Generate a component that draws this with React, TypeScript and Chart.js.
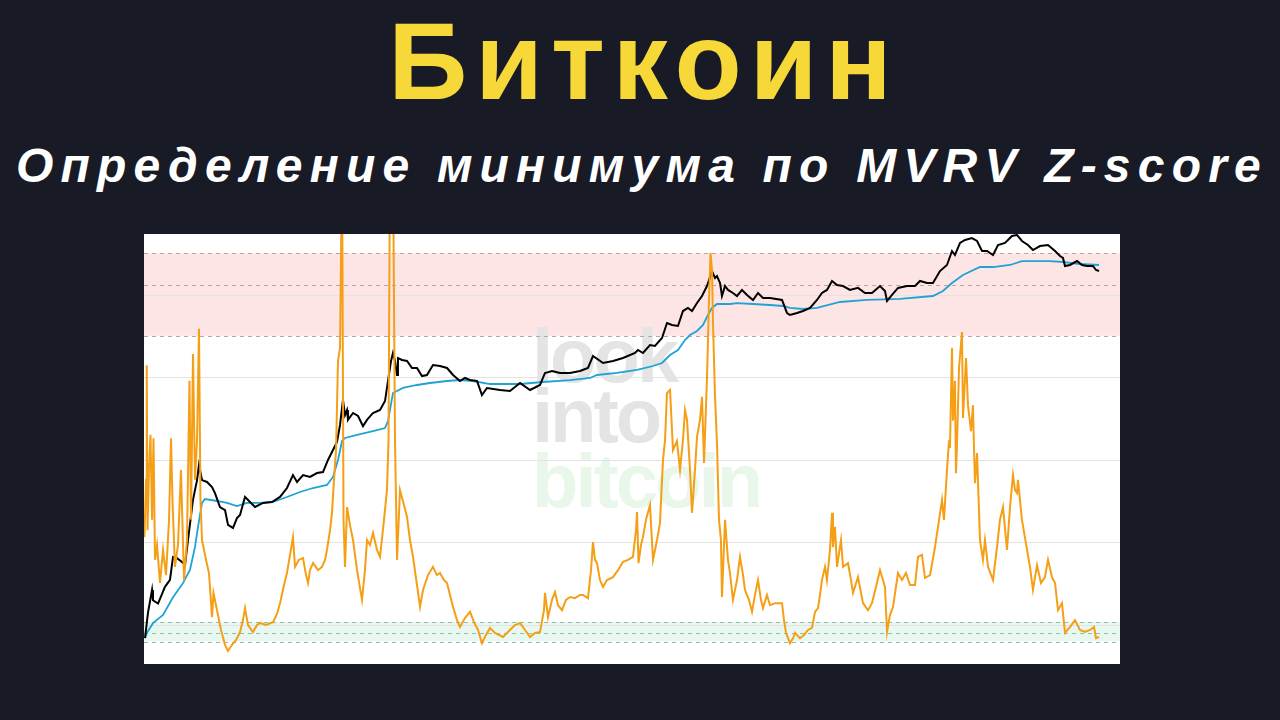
import React, { useEffect, useRef } from "react";
import { Chart, registerables } from "chart.js";
Chart.register(...registerables);

// MVRV Z-score: [year, z]
const zScoreSeries: [number, number][] = [
  [2010.766,2.13],[2010.786,3.52],[2010.795,6.30],[2010.805,2.30],[2010.824,3.76],[2010.843,4.61],[2010.863,2.55],[2010.882,4.53],[2010.901,1.58],[2010.927,1.94],
  [2010.965,1.02],[2011.004,1.82],[2011.042,1.21],[2011.081,2.55],[2011.106,4.53],[2011.125,3.03],[2011.157,1.41],[2011.196,1.94],[2011.234,3.76],[2011.273,1.09],
  [2011.311,2.06],[2011.343,5.92],[2011.363,2.55],[2011.388,6.57],[2011.414,3.52],[2011.44,4.48],[2011.465,7.18],[2011.484,3.03],[2011.504,2.06],[2011.555,1.58],
  [2011.593,1.26],[2011.632,0.19],[2011.651,0.78],[2011.696,0.36],[2011.747,-0.12],[2011.799,-0.48],[2011.837,-0.63],[2011.888,-0.48],[2011.94,-0.36],[2011.991,-0.17],
  [2012.029,0.12],[2012.055,0.41],[2012.093,0],[2012.157,-0.17],[2012.209,0],[2012.247,0.05],[2012.324,0],[2012.414,0.07],[2012.465,0.27],[2012.504,0.53],
  [2012.555,0.97],[2012.593,1.26],[2012.632,1.70],[2012.67,2.13],[2012.696,1.41],[2012.747,1.58],[2012.799,1.62],[2012.837,1.21],[2012.863,1.02],[2012.888,1.33],
  [2012.927,1.50],[2012.991,1.33],[2013.042,1.41],[2013.081,1.58],[2013.106,1.82],[2013.145,2.30],[2013.17,2.72],[2013.196,3.52],[2013.222,4.24],[2013.247,6.40],
  [2013.273,6.72],[2013.299,11.2],[2013.318,2.55],[2013.337,1.41],[2013.363,2.86],[2013.401,2.42],[2013.44,2.06],[2013.491,1.33],[2013.555,0.61],[2013.593,1.33],
  [2013.619,2.06],[2013.657,1.94],[2013.696,2.23],[2013.747,1.82],[2013.786,1.65],[2013.837,2.55],[2013.875,3.27],[2013.895,4.46],[2013.914,11.5],[2013.933,9.7],
  [2013.952,11.3],[2013.978,4.48],[2014.004,1.58],[2014.042,3.27],[2014.093,2.91],[2014.132,2.62],[2014.17,2.06],[2014.209,1.65],[2014.26,0.97],[2014.299,0.44],
  [2014.337,0.85],[2014.401,1.21],[2014.465,1.41],[2014.516,1.21],[2014.555,1.26],[2014.606,1.09],[2014.645,1.02],[2014.683,0.73],[2014.722,0.44],[2014.773,0.12],
  [2014.811,-0.05],[2014.875,0.17],[2014.94,0.32],[2014.991,0.07],[2015.042,-0.12],[2015.093,-0.44],[2015.145,-0.24],[2015.196,-0.07],[2015.26,-0.19],[2015.363,-0.29],
  [2015.452,-0.12],[2015.516,0],[2015.581,0.05],[2015.645,-0.12],[2015.709,-0.29],[2015.773,-0.19],[2015.837,-0.17],[2015.888,0.36],[2015.901,0.78],[2015.94,0.19],
  [2015.991,0.61],[2016.029,0.80],[2016.068,0.48],[2016.119,0.36],[2016.17,0.61],[2016.222,0.68],[2016.286,0.65],[2016.35,0.73],[2016.388,0.73],[2016.452,0.65],
  [2016.491,1.33],[2016.516,2.01],[2016.542,1.58],[2016.568,1.50],[2016.606,1.09],[2016.645,0.92],[2016.696,1.09],[2016.773,1.16],[2016.837,1.33],[2016.901,1.53],
  [2016.965,1.58],[2017.029,1.65],[2017.068,2.30],[2017.081,2.74],[2017.1,1.50],[2017.132,1.94],[2017.157,2.13],[2017.196,2.55],[2017.247,2.91],[2017.286,1.58],
  [2017.337,2.06],[2017.375,2.47],[2017.414,4.00],[2017.44,4.48],[2017.465,5.62],[2017.504,5.70],[2017.542,4.24],[2017.593,4.46],[2017.632,3.76],[2017.67,4.48],
  [2017.696,5.21],[2017.722,4.97],[2017.76,3.76],[2017.786,2.72],[2017.824,3.76],[2017.85,4.56],[2017.888,4.97],[2017.914,5.53],[2017.94,3.93],[2017.978,6.01],
  [2018.004,7.88],[2018.023,9.02],[2018.042,8.61],[2018.055,7.32],[2018.081,5.53],[2018.106,4.41],[2018.132,2.55],[2018.157,2.06],[2018.17,0.68],[2018.209,2.55],
  [2018.247,1.58],[2018.273,1.26],[2018.311,0.61],[2018.363,1.09],[2018.401,1.65],[2018.44,1.21],[2018.465,0.85],[2018.516,0.61],[2018.555,0.32],[2018.593,0.73],
  [2018.632,1.09],[2018.67,0.61],[2018.696,0.41],[2018.747,0.73],[2018.786,0.48],[2018.85,0.53],[2018.94,0.53],[2018.965,0.12],[2018.991,-0.19],[2019.042,-0.44],
  [2019.081,-0.32],[2019.106,-0.19],[2019.17,-0.32],[2019.222,-0.24],[2019.273,-0.12],[2019.324,-0.07],[2019.363,0.32],[2019.401,0.41],[2019.427,0.73],[2019.452,1.09],
  [2019.491,1.41],[2019.516,1.09],[2019.555,1.82],[2019.581,2.72],[2019.593,1.89],[2019.619,2.38],[2019.645,1.41],[2019.696,2.06],[2019.722,1.41],[2019.786,1.50],
  [2019.824,1.09],[2019.85,0.78],[2019.914,1.16],[2019.978,0.53],[2020.042,0.36],[2020.093,0.53],[2020.157,1.02],[2020.196,1.33],[2020.234,1.09],[2020.26,0.92],
  [2020.286,-0.17],[2020.324,0.24],[2020.363,0.44],[2020.427,1.26],[2020.478,1.09],[2020.529,1.26],[2020.581,0.97],[2020.645,0.97],[2020.683,1.65],[2020.734,1.70],
  [2020.773,1.14],[2020.837,1.21],[2020.901,1.89],[2020.94,2.38],[2020.991,3.03],[2021.016,2.55],[2021.055,3.76],[2021.081,4.48],[2021.093,4.29],[2021.119,6.72],
  [2021.132,4.95],[2021.157,5.92],[2021.17,3.68],[2021.183,4.36],[2021.209,6.23],[2021.247,7.10],[2021.26,5.02],[2021.299,6.47],[2021.324,5.33],[2021.363,4.70],
  [2021.388,5.33],[2021.401,4.29],[2021.414,3.44],[2021.44,4.17],[2021.478,2.06],[2021.516,1.58],[2021.542,2.06],[2021.581,1.41],[2021.645,1.09],[2021.696,1.89],
  [2021.734,2.55],[2021.773,2.86],[2021.824,1.82],[2021.863,2.86],[2021.901,3.64],[2021.927,3.27],[2021.952,3.20],[2021.965,3.52],[2022.016,2.55],[2022.081,1.82],
  [2022.119,1.41],[2022.157,0.85],[2022.209,1.45],[2022.26,1.02],[2022.311,1.16],[2022.35,1.58],[2022.401,1.16],[2022.44,1.02],[2022.478,0.36],[2022.529,0.53],
  [2022.568,-0.19],[2022.632,-0.05],[2022.696,0.12],[2022.76,-0.12],[2022.824,-0.17],[2022.888,-0.12],[2022.94,-0.05],[2022.965,-0.32],[2023.004,-0.29],
];

// BTC price (USD, log scale): [year, price]
const priceSeries: [number, number][] = [
  [2010.773,0.047],[2010.811,0.115],[2010.863,0.26],[2010.875,0.18],[2010.94,0.16],[2011.029,0.29],[2011.093,0.37],[2011.132,0.83],[2011.183,0.80],[2011.247,0.70],
  [2011.286,0.63],[2011.324,1.52],[2011.388,6.3],[2011.44,12.7],[2011.465,21.7],[2011.504,12.7],[2011.568,11.9],[2011.632,9.95],[2011.67,8.0],[2011.734,4.9],
  [2011.799,4.4],[2011.837,2.6],[2011.901,2.33],[2011.952,3.3],[2011.991,3.7],[2012.055,7.0],[2012.119,5.85],[2012.183,4.9],[2012.286,5.65],[2012.401,5.85],
  [2012.504,7.0],[2012.593,9.6],[2012.67,15.2],[2012.722,11.9],[2012.799,15.2],[2012.888,14.2],[2012.978,16.3],[2013.055,16.9],[2013.119,25.9],[2013.183,36.9],
  [2013.234,49],[2013.273,89.5],[2013.311,217],[2013.337,127],[2013.363,152],[2013.375,107],[2013.44,137],[2013.504,123],[2013.568,86],[2013.619,107],
  [2013.696,137],[2013.786,152],[2013.85,209],[2013.888,425],[2013.927,863],[2013.952,1146],[2013.978,863],[2014.004,526],[2014.016,960],[2014.068,895],
  [2014.132,863],[2014.196,674],[2014.26,674],[2014.324,507],[2014.388,526],[2014.465,750],[2014.555,723],[2014.645,674],[2014.722,526],[2014.811,425],
  [2014.875,473],[2014.94,440],[2015.029,425],[2015.093,259],[2015.157,332],[2015.324,309],[2015.452,298],[2015.581,396],[2015.709,309],[2015.837,369],
  [2015.901,565],[2015.991,605],[2016.093,565],[2016.222,565],[2016.35,605],[2016.452,674],[2016.516,1030],[2016.645,804],[2016.773,863],[2016.901,960],
  [2017.055,1146],[2017.093,1274],[2017.157,1146],[2017.247,1521],[2017.311,1469],[2017.401,1950],[2017.465,3319],[2017.529,3090],[2017.606,2985],[2017.67,5070],
  [2017.734,5650],[2017.786,5070],[2017.85,6730],[2017.914,8630],[2017.978,12300],[2018.004,15200],[2018.042,20900],[2018.081,16300],[2018.106,17500],[2018.145,13700],
  [2018.17,8630],[2018.209,12300],[2018.247,10700],[2018.311,9600],[2018.363,8630],[2018.427,10700],[2018.491,8950],[2018.568,7500],[2018.632,9600],[2018.696,8040],
  [2018.786,8040],[2018.94,7500],[2019.004,4730],[2019.042,4400],[2019.132,4730],[2019.209,5070],[2019.299,5650],[2019.388,7500],[2019.452,9600],[2019.516,10700],
  [2019.581,14700],[2019.645,12700],[2019.722,12300],[2019.811,10700],[2019.914,11500],[2020.004,9600],[2020.093,9600],[2020.196,12300],[2020.26,10300],[2020.286,7230],
  [2020.35,8950],[2020.427,11500],[2020.542,12300],[2020.645,12300],[2020.709,14700],[2020.799,13700],[2020.875,13700],[2020.965,20900],[2021.055,25900],[2021.119,42500],
  [2021.157,36900],[2021.222,56500],[2021.286,62800],[2021.375,67300],[2021.44,60600],[2021.504,42500],[2021.568,42500],[2021.645,36900],[2021.709,52600],[2021.799,56500],
  [2021.888,72300],[2021.952,75000],[2022.016,60600],[2022.093,52600],[2022.157,44000],[2022.247,50700],[2022.35,52600],[2022.44,42500],[2022.504,35600],[2022.542,33200],
  [2022.568,25000],[2022.632,25900],[2022.722,29800],[2022.786,25900],[2022.85,25000],[2022.927,25000],[2022.965,21700],[2023.004,20900],
];

// Realized price (USD): [year, price]
const realizedSeries: [number, number][] = [
  [2010.773,0.047],[2010.798,0.057],[2010.875,0.080],[2011.004,0.107],[2011.132,0.20],[2011.26,0.33],[2011.35,0.53],[2011.414,1.19],[2011.452,2.41],[2011.504,5.65],
  [2011.542,6.5],[2011.696,6.06],[2011.824,5.65],[2011.952,5.07],[2012.081,5.65],[2012.247,5.65],[2012.414,5.85],[2012.593,6.98],[2012.76,8.33],[2012.927,9.6],
  [2013.106,10.7],[2013.183,14.2],[2013.247,25.9],[2013.299,50.7],[2013.337,56.5],[2013.491,62.8],[2013.696,72.3],[2013.85,80.4],[2013.888,103],[2013.952,278],
  [2014.081,332],[2014.26,369],[2014.427,396],[2014.645,425],[2014.811,440],[2014.978,425],[2015.196,382],[2015.581,382],[2015.875,410],[2016.222,440],
  [2016.478,473],[2016.568,526],[2016.824,565],[2017.081,628],[2017.286,723],[2017.401,804],[2017.504,1067],[2017.606,1274],[2017.696,1816],[2017.76,2168],
  [2017.85,2500],[2017.927,3090],[2017.991,4400],[2018.042,5650],[2018.106,6500],[2018.273,6500],[2018.363,6730],[2018.568,6500],[2018.786,6280],[2018.952,6060],
  [2019.042,5650],[2019.209,5450],[2019.388,5650],[2019.683,6980],[2020.029,7500],[2020.452,7770],[2020.875,8630],[2021.003,10300],[2021.119,13700],[2021.26,18200],
  [2021.478,24100],[2021.645,24100],[2021.863,25900],[2022.016,29800],[2022.157,29800],[2022.375,29800],[2022.542,28800],[2022.76,26800],[2023.004,25900],
];

const xRange = [2010.76, 2023.273];
const zRange = [-0.945, 9.479];
const priceRange = [0.01882, 77625];
const zGridValues = [0, 2, 4, 6, 8];
const redBand = [7.01, 9.02];
const redMid = 8.25;
const greenBand = [-0.4, 0.08];
const greenMid = -0.2;

const backdrop = {
  id: "backdrop",
  beforeDraw(chart: any) {
    const { ctx, chartArea: a, scales } = chart;
    const z = scales.z;
    ctx.save();
    ctx.fillStyle = "#ffffff";
    ctx.fillRect(0, 0, chart.width, chart.height);
    const r1 = z.getPixelForValue(redBand[1]);
    const r0 = z.getPixelForValue(redBand[0]);
    ctx.fillStyle = "#fde5e5";
    ctx.fillRect(a.left, r1, a.right - a.left, r0 - r1);
    const g1 = z.getPixelForValue(greenBand[1]);
    const g0 = z.getPixelForValue(greenBand[0]);
    ctx.fillStyle = "#e8f7ef";
    ctx.fillRect(a.left, g1, a.right - a.left, g0 - g1);
    // watermark
    ctx.font = 'bold 76px "Liberation Sans", Arial, sans-serif';
    try { (ctx as any).letterSpacing = "-3px"; } catch (e) {}
    ctx.textBaseline = "alphabetic";
    ctx.fillStyle = "#e4e4e4";
    ctx.fillText("look", a.left + 388, a.top + 148);
    ctx.fillText("into", a.left + 388, a.top + 208);
    ctx.fillStyle = "#e8f7ea";
    ctx.fillText("bitcoin", a.left + 388, a.top + 273);
    ctx.restore();
  },
  beforeDatasetsDraw(chart: any) {
    const { ctx, chartArea: a, scales } = chart;
    const z = scales.z;
    ctx.save();
    ctx.lineWidth = 1;
    ctx.setLineDash([4, 4]);
    const dash = (v: number, c: string) => {
      const y = Math.round(z.getPixelForValue(v)) + 0.5;
      ctx.strokeStyle = c;
      ctx.beginPath();
      ctx.moveTo(a.left, y);
      ctx.lineTo(a.right, y);
      ctx.stroke();
    };
    dash(redBand[1], "#bfa2a2");
    dash(redMid, "#bfa2a2");
    dash(redBand[0], "#bfa2a2");
    dash(greenBand[1], "#92bea4");
    dash(greenMid, "#92bea4");
    dash(greenBand[0], "#92bea4");
    ctx.restore();
  },
};

export default function App() {
  const ref = useRef<HTMLCanvasElement>(null);
  useEffect(() => {
    document.body.style.margin = "0";
    const chart = new Chart(ref.current as HTMLCanvasElement, {
      type: "line",
      data: {
        datasets: [
          {
            label: "MVRV Z-Score",
            data: zScoreSeries.map(([x, y]) => ({ x, y })),
            yAxisID: "z",
            borderColor: "#f59f16",
            borderWidth: 2,
            pointRadius: 0,
            tension: 0,
          },
          {
            label: "Price",
            data: priceSeries.map(([x, y]) => ({ x, y })),
            yAxisID: "p",
            borderColor: "#000000",
            borderWidth: 2,
            pointRadius: 0,
            tension: 0,
          },
          {
            label: "Realized Price",
            data: realizedSeries.map(([x, y]) => ({ x, y })),
            yAxisID: "p",
            borderColor: "#1fa3d6",
            borderWidth: 1.8,
            pointRadius: 0,
            tension: 0,
          },
        ],
      },
      options: {
        animation: false,
        responsive: false,
        devicePixelRatio: 1,
        layout: { padding: 0, autoPadding: false } as any,
        plugins: { legend: { display: false }, tooltip: { enabled: false } },
        scales: {
          x: { type: "linear", min: xRange[0], max: xRange[1], display: false },
          z: {
            type: "linear",
            position: "left",
            min: zRange[0],
            max: zRange[1],
            ticks: { display: false },
            border: { display: false },
            grid: { color: "#e3e3e3", drawTicks: false, lineWidth: 1 },
            afterBuildTicks: (s: any) => {
              s.ticks = zGridValues.map((v) => ({ value: v }));
            },
          },
          p: {
            type: "logarithmic",
            position: "right",
            min: priceRange[0],
            max: priceRange[1],
            display: false,
          },
        },
      },
      plugins: [backdrop],
    });
    return () => chart.destroy();
  }, []);

  return (
    <div style={{ position: "absolute", left: 0, top: 0, width: 1280, height: 720, background: "#181a25", overflow: "hidden" }}>
      <div
        style={{
          position: "absolute", left: 4, top: 6, width: 1280, textAlign: "center",
          color: "#f6d838", font: 'bold 110px "Liberation Sans", Arial, sans-serif',
          lineHeight: "110px", letterSpacing: "8px", whiteSpace: "nowrap",
        }}
      >
        Биткоин
      </div>
      <div
        style={{
          position: "absolute", left: 2, top: 142, width: 1280, textAlign: "center",
          color: "#ffffff", font: 'italic bold 48px "Liberation Sans", Arial, sans-serif',
          lineHeight: "48px", letterSpacing: "7.2px", whiteSpace: "nowrap",
        }}
      >
        Определение минимума по MVRV Z-score
      </div>
      <div style={{ position: "absolute", left: 144, top: 234, width: 976, height: 430, background: "#fff" }}>
        <canvas ref={ref} width={976} height={430} style={{ display: "block", width: 976, height: 430 }} />
      </div>
    </div>
  );
}
